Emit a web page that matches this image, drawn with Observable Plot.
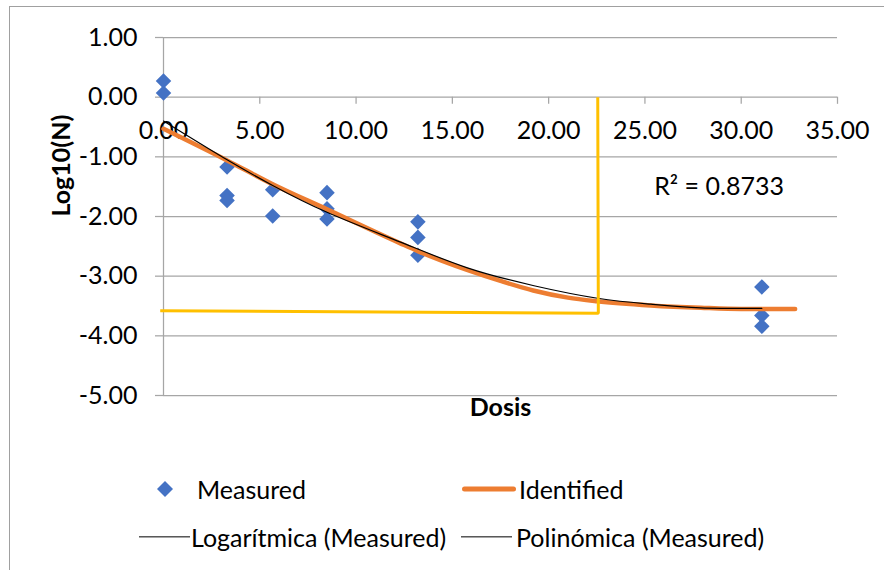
<!DOCTYPE html>
<html><head><meta charset="utf-8">
<script src="https://cdn.jsdelivr.net/npm/d3@7"></script>
<script src="https://cdn.jsdelivr.net/npm/@observablehq/plot@0.6"></script>
<style>
body{margin:0;background:#fff;font-family:Lato, sans-serif;}
#wrap{position:relative;width:884px;height:570px;overflow:hidden;background:#fff;}
#frame{position:absolute;left:9px;top:6px;width:900px;height:600px;border-top:1px solid #a0a0a0;border-left:1px solid #a0a0a0;pointer-events:none;}
#legend{position:absolute;left:0;top:445px;width:884px;height:125px;font-size:25px;color:#000;font-family:Lato, sans-serif;}
.item{position:absolute;transform:translateY(-50%);white-space:nowrap;line-height:1.2;}
#chart svg{display:block;}
</style></head><body>
<div id="wrap"><div id="chart"></div><div id="legend"></div><div id="frame"></div></div>
<script>
// ---- data ----
const doseMeasured = [0, 0, 3.3, 3.3, 3.3, 5.67, 5.67, 8.49, 8.49, 8.49, 13.21, 13.21, 13.21, 31.07, 31.07, 31.07];
const logMeasured  = [0.27, 0.07, -1.17, -1.65, -1.73, -1.55, -1.99, -1.60, -1.87, -2.04, -2.09, -2.35, -2.65, -3.18, -3.66, -3.84];

const doseIdentified = [0, 3.3, 5.67, 8.49, 12.3, 13.21, 15.8, 17.5, 19.2, 21, 22.5, 25.3, 27.9, 30, 32.8];
const logIdentified  = [-0.53, -1.06, -1.46, -1.88, -2.45, -2.58, -2.90, -3.08, -3.24, -3.36, -3.42, -3.49, -3.53, -3.55, -3.55];

const dosePoly = [0, 3.3, 5.67, 8.49, 12.31, 15.78, 19.24, 22.54, 25.3, 27.9, 31.07];
const logPoly  = [-0.40, -1.05, -1.48, -1.93, -2.43, -2.86, -3.16, -3.37, -3.47, -3.53, -3.54];

const doseGuide = [-0.17, 22.58, 22.55];
const logGuide  = [-3.58, -3.62, 0];

const xTicks = [0, 5, 10, 15, 20, 25, 30, 35];
const yTicks = [-5, -4, -3, -2, -1, 0, 1];

const xTitle = "Dosis";
const yTitle = "Log10(N)";
const r2Label = "R² = 0.8733";
const legendLabels = ["Measured", "Identified", "Logarítmica (Measured)", "Polinómica (Measured)"];

// ---- build ----
const fmt = d => d.toFixed(2);
const zip = (xs, ys) => xs.map((x, i) => ({x, y: ys[i]}));
const measured = zip(doseMeasured, logMeasured);
const identified = zip(doseIdentified, logIdentified);
const poly = zip(dosePoly, logPoly);
const guide = zip(doseGuide, logGuide);
const grid = "#a6a6a6";

const chart = Plot.plot({
  width: 884, height: 445,
  marginLeft: 163, marginRight: 47, marginTop: 37, marginBottom: 50,
  style: {fontFamily: "Lato, sans-serif", fontSize: "25px", background: "white", color: "black", overflow: "visible"},
  x: {domain: [0, 35], axis: null},
  y: {domain: [-5, 1], axis: null},
  marks: [
    Plot.gridY(yTicks, {stroke: grid, strokeOpacity: 1, strokeWidth: 1.25}),
    Plot.axisY(yTicks, {tickSize: 8, tickPadding: 18, tickFormat: fmt, stroke: grid, strokeOpacity: 1, strokeWidth: 1.25, fill: "black", label: null}),
    Plot.ruleX([0], {y1: -5, y2: 1, stroke: grid, strokeWidth: 1.25}),
    Plot.ruleX(xTicks.filter(d => d > 0), {x: d => d, y1: 0, y2: -0.12, stroke: grid, strokeWidth: 1.25}),
    Plot.text(xTicks, {x: d => d, y: 0, text: fmt, dy: 34, fill: "black"}),
    Plot.dot(measured, {x: "x", y: "y", symbol: "diamond2", r: 7, fill: "#4472C4", stroke: "none"}),
    Plot.line(identified, {x: "x", y: "y", stroke: "#ED7D31", strokeWidth: 4.5, curve: "monotone-x", strokeLinecap: "round"}),
    Plot.line(poly, {x: "x", y: "y", stroke: "black", strokeWidth: 1.2, curve: "natural"}),
    Plot.line(guide, {x: "x", y: "y", stroke: "#FFC000", strokeWidth: 3, curve: "linear", strokeLinejoin: "miter", strokeLinecap: "butt"}),
    Plot.text([r2Label], {x: 28.85, y: -1.5, text: d => d, fill: "black"}),
    Plot.text([xTitle], {frameAnchor: "bottom", dy: 20, text: d => d, fontWeight: "bold", fill: "black"}),
    Plot.text([yTitle], {frameAnchor: "left", dx: -102, rotate: -90, text: d => d, fontWeight: "bold", fill: "black"})
  ]
});
document.getElementById("chart").appendChild(chart);

// ---- legend (HTML, below the SVG) ----
const lg = document.getElementById("legend");
function add(html, left, top) {
  const el = document.createElement("div");
  el.className = "item";
  el.style.left = left + "px";
  el.style.top = top + "px";
  el.innerHTML = html;
  lg.appendChild(el);
}
const r1 = 44, r2 = 92;
add('<svg width="16" height="16" style="display:block"><path d="M8,0L16,8L8,16L0,8Z" fill="#4472C4"/></svg>', 157, r1);
add(legendLabels[0], 197, r1);
add('<div style="width:54px;height:5px;background:#ED7D31;border-radius:2.5px"></div>', 462, r1);
add(legendLabels[1], 519, r1);
add('<div style="width:51px;height:1.3px;background:#000"></div>', 139, r2);
add(legendLabels[2], 191, r2);
add('<div style="width:51px;height:1.3px;background:#000"></div>', 461, r2);
add(legendLabels[3], 516, r2);
</script>
</body></html>
